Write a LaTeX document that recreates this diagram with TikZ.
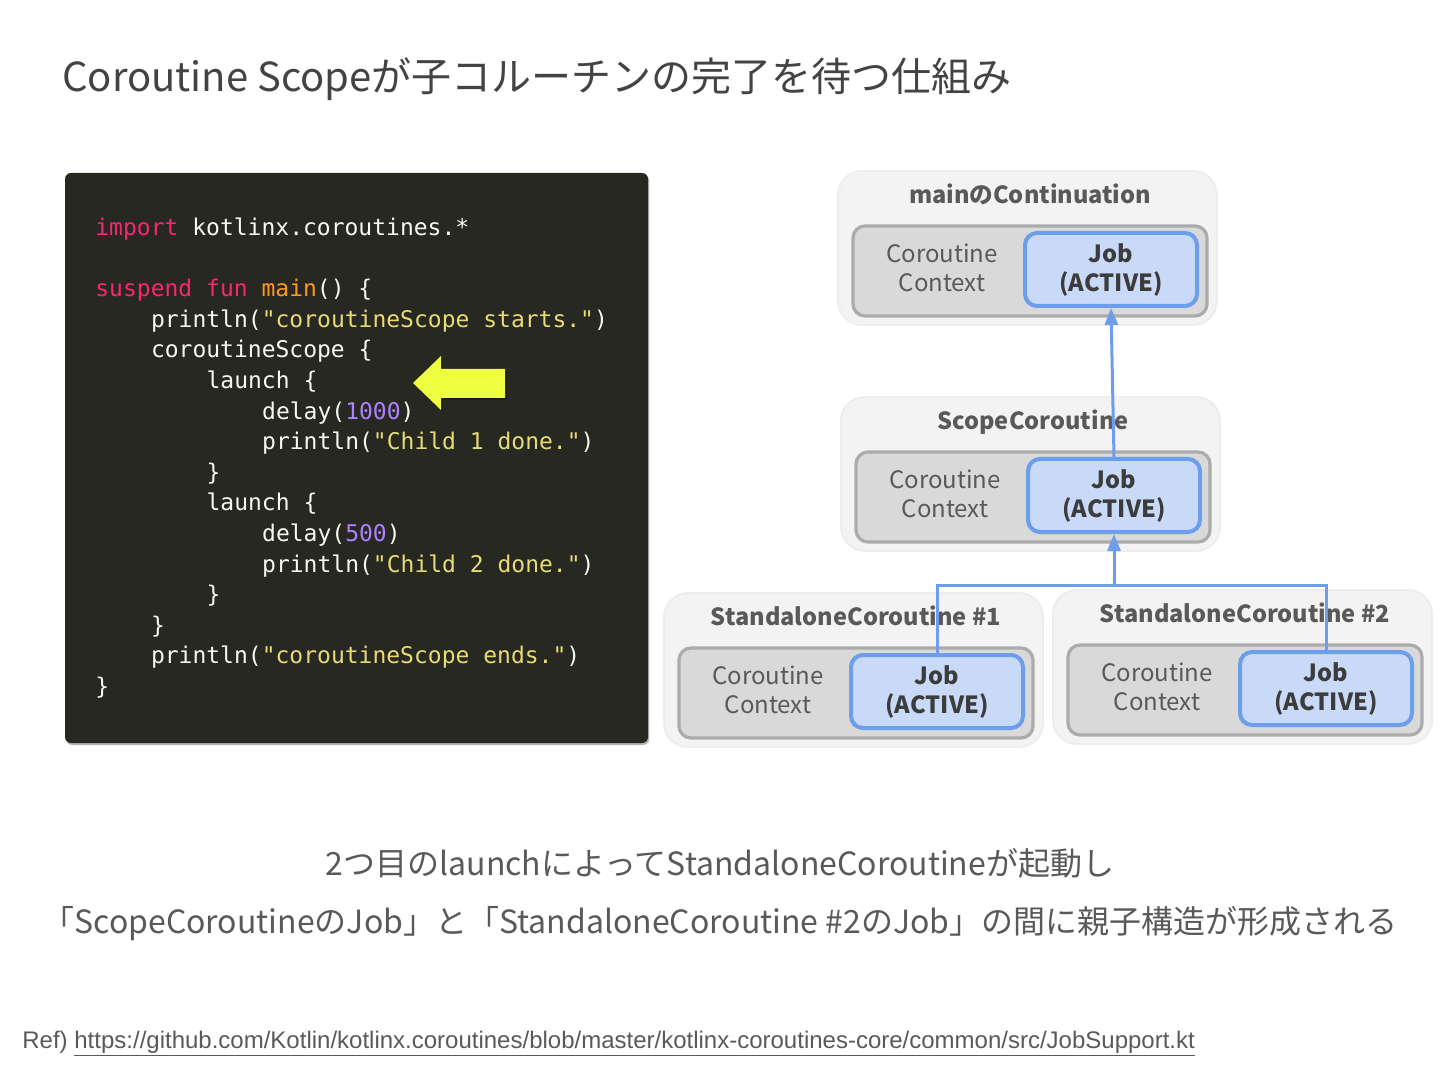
\documentclass[tikz,border=0pt]{standalone}
\usepackage{fontspec}
\setmainfont{Noto Sans CJK JP}
\newfontfamily\codefont{DejaVu Sans Mono}
\newfontfamily\arialfont{Liberation Sans}
\usetikzlibrary{arrows.meta,shadows}
\definecolor{titlec}{HTML}{434343}
\definecolor{txt}{HTML}{595959}
\definecolor{jobtxt}{HTML}{3C3C3C}
\definecolor{codebg}{HTML}{272822}
\definecolor{cpink}{HTML}{F92672}
\definecolor{corange}{HTML}{FD971F}
\definecolor{cstr}{HTML}{E6DB74}
\definecolor{cnum}{HTML}{AE81FF}
\definecolor{cfg}{HTML}{F8F8F2}
\definecolor{outerfill}{HTML}{F3F3F3}
\definecolor{outerdraw}{HTML}{EDEDED}
\definecolor{innerfill}{HTML}{D9D9D9}
\definecolor{innerdraw}{HTML}{ABABAB}
\definecolor{jobfill}{HTML}{C9DAF8}
\definecolor{jobdraw}{HTML}{6D9EEB}
\definecolor{arrowy}{HTML}{EEFF41}
\newcommand\kwd[1]{\textcolor{cpink}{#1}}
\newcommand\fnm[1]{\textcolor{corange}{#1}}
\newcommand\strl[1]{\textcolor{cstr}{#1}}
\newcommand\numl[1]{\textcolor{cnum}{#1}}
\tikzset{
  codeline/.style={anchor=base west, inner sep=0pt, text=cfg,
    font=\codefont\fontsize{11.5}{14}\selectfont},
  outerbox/.style={draw=outerdraw, fill=outerfill, line width=1pt,
    rounded corners=12pt, minimum width=189.5pt, minimum height=77pt, inner sep=0pt},
  innerbox/.style={draw=innerdraw, fill=innerfill, line width=1.6pt,
    rounded corners=6pt, minimum width=177pt, minimum height=45pt, inner sep=0pt},
  jobbox/.style={draw=jobdraw, fill=jobfill, line width=2pt,
    rounded corners=6pt, minimum width=86pt, minimum height=36.5pt, inner sep=0pt,
    align=center, text=jobtxt, font=\fontsize{11.8}{14.5}\selectfont\bfseries},
  ctxtext/.style={align=center, inner sep=0pt, text=txt,
    font=\fontsize{12}{14.5}\selectfont},
  boxtitle/.style={anchor=base, inner sep=0pt, text=txt,
    font=\fontsize{11.8}{15}\selectfont\bfseries},
  conn/.style={draw=jobdraw, line width=1.5pt},
  connarrow/.style={conn, -{Triangle[length=8.5pt,width=6.5pt]}},
  bottomtext/.style={anchor=base, inner sep=0pt, text=txt,
    font=\fontsize{16}{20}\selectfont}
}
\newcommand\corobox[4]{%
  \begin{scope}[shift={(#2,#3)}]
    \node[outerbox] (#1o) at (189.5,77) {};
    \node[innerbox] (#1i) at (192,100) {};
    \node[jobbox] (#1j) at (273,98.5) {\raisebox{-1.5pt}{Job}\\\raisebox{-1.5pt}{(ACTIVE)}};
    \node[ctxtext] (#1c) at (104,97) {Coroutine\\Context};
    \node[boxtitle] (#1t) at (192,32.5) {#4};
  \end{scope}}
\begin{document}
\begin{tikzpicture}[x=0.5pt,y=-0.5pt]
\useasboundingbox (0,0) rectangle (1440,1080);
% title
\node[anchor=base west, inner sep=0pt, text=titlec, font=\fontsize{20}{24}\selectfont] (title) at (62,92)
  {Coroutine Scopeが子コルーチンの完了を待つ仕組み};
% code panel
\path[fill=codebg, rounded corners=3pt, drop shadow={shadow xshift=0.6pt, shadow yshift=-1pt, opacity=0.3, fill=black}]
  (65,173) rectangle (648,743);
\node[codeline] (l0) at (95,235.5) {\kwd{import} kotlinx.coroutines.*};
\node[codeline] (l2) at (95,296.7) {\kwd{suspend} \kwd{fun} \fnm{main}() \{};
\node[codeline] (l3) at (150.6,327.3) {println(\strl{"coroutineScope starts."})};
\node[codeline] (l4) at (150.6,357.9) {coroutineScope \{};
\node[codeline] (l5) at (206.2,388.5) {launch \{};
\node[codeline] (l6) at (261.8,419.1) {delay(\numl{1000})};
\node[codeline] (l7) at (261.8,449.7) {println(\strl{"Child 1 done."})};
\node[codeline] (l8) at (206.2,480.3) {\}};
\node[codeline] (l9) at (206.2,510.9) {launch \{};
\node[codeline] (l10) at (261.8,541.5) {delay(\numl{500})};
\node[codeline] (l11) at (261.8,572.1) {println(\strl{"Child 2 done."})};
\node[codeline] (l12) at (206.2,602.7) {\}};
\node[codeline] (l13) at (150.6,633.3) {\}};
\node[codeline] (l14) at (150.6,663.9) {println(\strl{"coroutineScope ends."})};
\node[codeline] (l15) at (95,694.5) {\}};
% yellow arrow
\path[fill=arrowy, drop shadow={shadow xshift=0.8pt, shadow yshift=-0.8pt, opacity=0.35, fill=black}]
  (413,383) -- (441,356) -- (441,369) -- (505,369) -- (505,398) -- (441,398) -- (441,410) -- cycle;
% coroutine boxes
\corobox{m}{838}{171}{mainのContinuation}
\corobox{s}{841}{397}{ScopeCoroutine}
\corobox{a}{664}{593}{StandaloneCoroutine \#1}
\corobox{b}{1053}{590}{StandaloneCoroutine \#2}
% connectors
\coordinate (jn) at (1114,585);
\draw[connarrow] (sj.north) -- (mj.south);
\draw[conn] (aj.north) |- (jn) -| (bj.north);
\draw[connarrow] (jn) -- (sj.south);
% bottom text
\node[bottomtext] (b1) at (720,875) {2つ目のlaunchによってStandaloneCoroutineが起動し};
\node[bottomtext] (b2) at (720,933) {「ScopeCoroutineのJob」と「StandaloneCoroutine \#2のJob」の間に親子構造が形成される};
% reference
\node[anchor=base west, inner sep=0pt, text=txt, font=\arialfont\fontsize{12}{14}\selectfont] (ref) at (22,1048)
  {Ref) \underline{https://github.com/Kotlin/kotlinx.coroutines/blob/master/kotlinx-coroutines-core/common/src/JobSupport.kt}};
\end{tikzpicture}
\end{document}
